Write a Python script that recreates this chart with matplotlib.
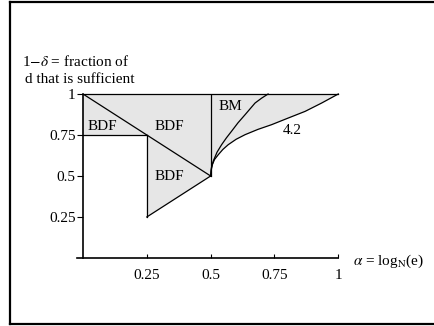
import matplotlib.pyplot as plt
from matplotlib.lines import Line2D

plt.rcParams['font.family'] = ['Liberation Serif', 'DejaVu Serif']
plt.rcParams['mathtext.fontset'] = 'stix'

# BDF region (outline of the shaded area on the left)
bdf_x = [0, 0.5, 0.5, 0.25, 0.25, 0]
bdf_y = [1, 1, 0.5, 0.25, 0.75, 0.75]

# curve labelled 4.2
curve42_x = [0.5, 0.502, 0.507, 0.515, 0.530, 0.548, 0.569, 0.600, 0.635, 0.685,
             0.739, 0.800, 0.870, 0.935, 1.0]
curve42_y = [0.5, 0.535, 0.570, 0.600, 0.630, 0.662, 0.691, 0.724, 0.752, 0.784,
             0.813, 0.851, 0.894, 0.945, 1.0]

# BM curve
bm_x = [0.5, 0.503, 0.510, 0.525, 0.543, 0.562, 0.582, 0.607, 0.635, 0.674, 0.700, 0.725]
bm_y = [0.5, 0.550, 0.590, 0.645, 0.691, 0.733, 0.773, 0.824, 0.874, 0.945, 0.975, 1.0]

ticks = [0.25, 0.5, 0.75, 1]
tick_labels = ['0.25', '0.5', '0.75', '1']

region_labels = ['BDF', 'BDF', 'BDF', 'BM', '4.2']
label_x = [0.074, 0.338, 0.338, 0.576, 0.82]
label_y = [0.80, 0.80, 0.496, 0.925, 0.78]

fill_col = '#e6e6e6'
fs = 11

fig = plt.figure(figsize=(4.35, 3.26), dpi=100)
ax = fig.add_axes([0.1761, 0.2086, 0.6016, 0.5031])

ax.fill(bdf_x, bdf_y, color=fill_col, lw=0)
ax.fill(curve42_x + [0.5], curve42_y + [1], color=fill_col, lw=0)

lw = 0.9
ax.plot([0, 1], [1, 1], color='black', lw=lw, clip_on=False)
ax.plot([0, 0.25], [0.75, 0.75], color='black', lw=lw)
ax.plot([0.25, 0.25], [0.75, 0.25], color='black', lw=lw)
ax.plot([0.25, 0.5], [0.25, 0.5], color='black', lw=lw)
ax.plot([0, 0.5], [1, 0.5], color='black', lw=lw)
ax.plot([0.5, 0.5], [0.5, 1], color='black', lw=lw)
ax.plot(curve42_x, curve42_y, color='black', lw=lw, clip_on=False)
ax.plot(bm_x, bm_y, color='black', lw=lw, clip_on=False)

for t, lx, ly in zip(region_labels, label_x, label_y):
    ax.text(lx, ly, t, ha='center', va='center', fontsize=fs)

ax.set_xlim(-0.025, 1)
ax.set_ylim(0, 1)
ax.spines['top'].set_visible(False)
ax.spines['right'].set_visible(False)
ax.spines['left'].set_position(('data', 0))
ax.spines['left'].set_linewidth(1.2)
ax.spines['bottom'].set_linewidth(1.2)
ax.set_xticks(ticks)
ax.set_xticklabels(tick_labels)
ax.set_yticks(ticks)
ax.set_yticklabels(tick_labels)
ax.tick_params(axis='x', direction='in', length=3, pad=8, labelsize=fs)
ax.tick_params(axis='y', direction='out', length=4.3, pad=1, labelsize=fs)
ax.patch.set_visible(False)

fig.text(0.0499, 0.7975, '1$-\\delta$ = fraction of', fontsize=fs, va='baseline')
fig.text(0.0575, 0.7454, 'd that is sufficient', fontsize=fs, va='baseline')
fig.text(0.8108, 0.197, '$\\alpha$ = log$_{\\mathrm{N}}$(e)', fontsize=fs, va='center')

# frame around the figure (right side is cut off in the original)
for xs, ys in [([0.023, 0.023], [0.006, 0.994]),
               ([0.023, 1], [0.994, 0.994]),
               ([0.023, 1], [0.006, 0.006])]:
    fig.add_artist(Line2D(xs, ys, color='black', lw=1.6, transform=fig.transFigure))

fig.savefig('out.png', dpi=100)
